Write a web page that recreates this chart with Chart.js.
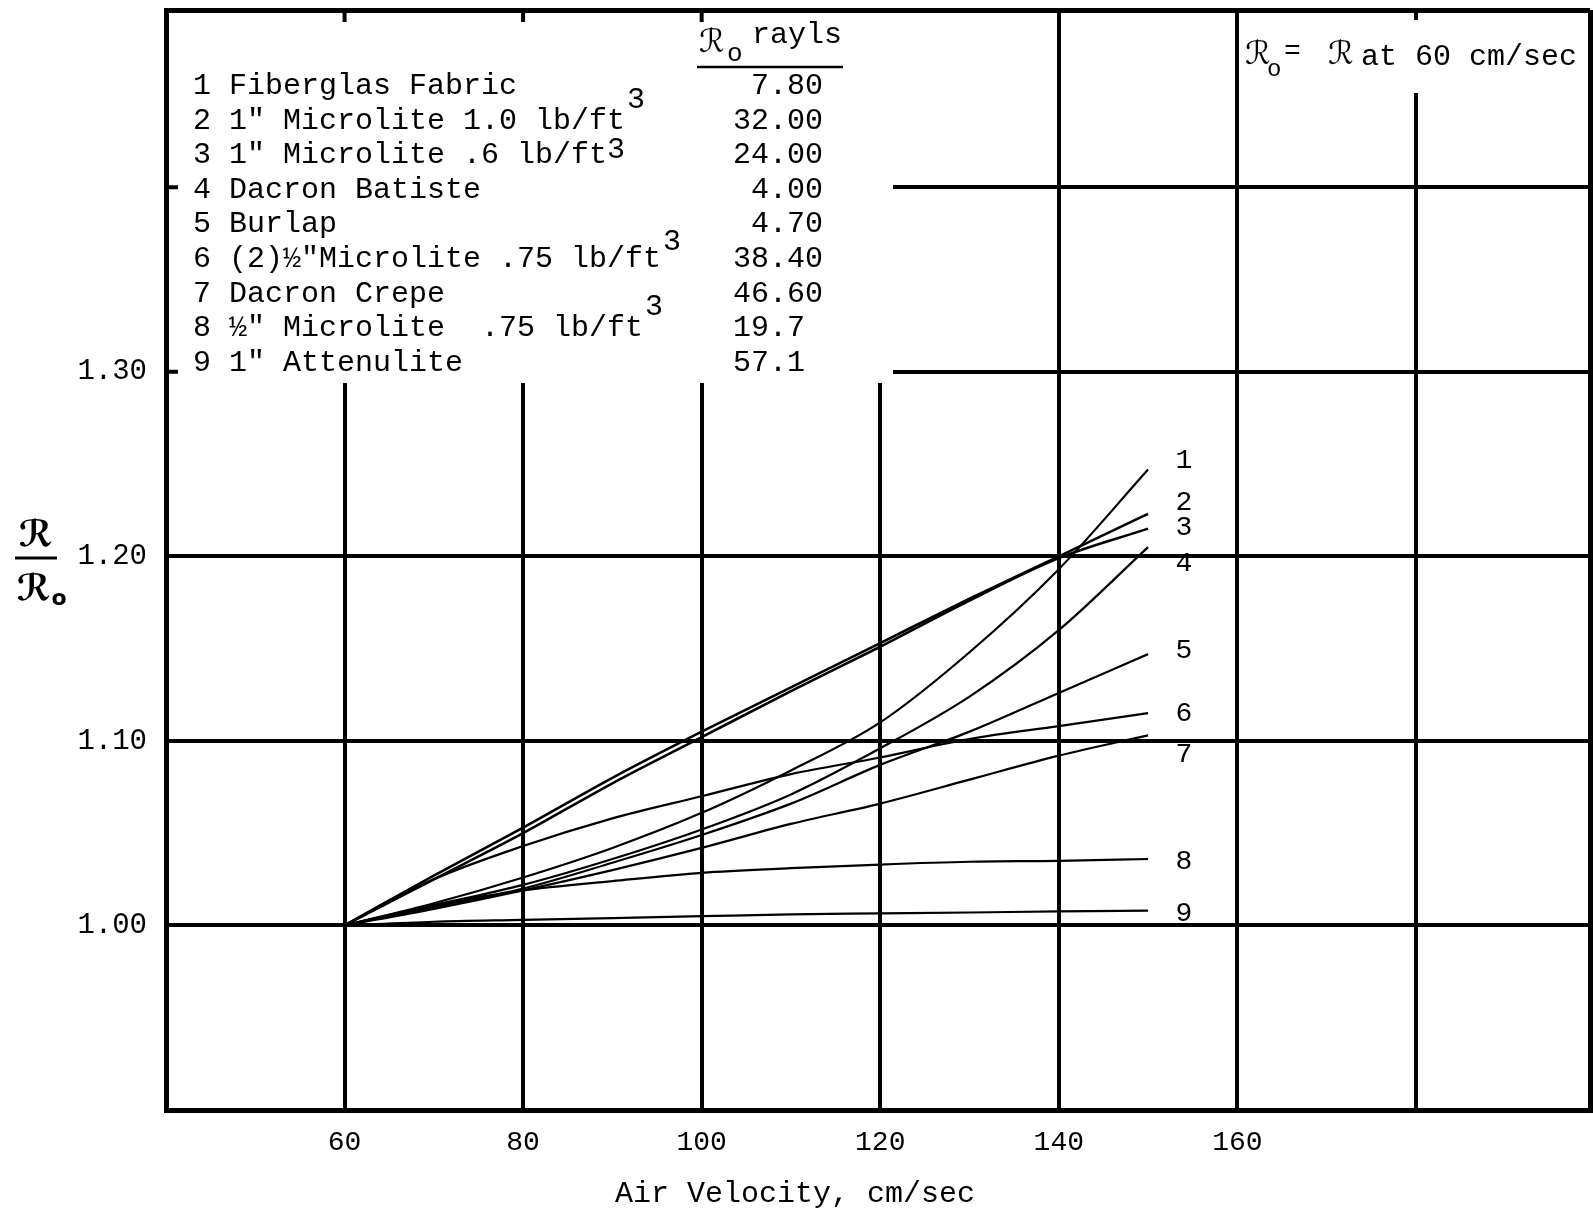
<!DOCTYPE html>
<html>
<head>
<meta charset="utf-8">
<title>R/Ro vs Air Velocity</title>
<script src="https://cdn.jsdelivr.net/npm/chart.js@4.4.1/dist/chart.umd.min.js"></script>
<style>
  html, body { margin: 0; padding: 0; background: #fff; }
  #wrap { width: 1593px; height: 1211px; }
</style>
</head>
<body>
<div id="wrap"><canvas id="chart" width="1593" height="1211"></canvas></div>
<script>
// Air velocity, cm/sec
const velocity = [60, 70, 80, 90, 100, 110, 120, 130, 140, 150];

// R / Ro, one array per material
const fiberglasFabric   = [1.000, 1.012, 1.026, 1.042, 1.061, 1.084, 1.110, 1.148, 1.193, 1.247];
const microlite1in10    = [1.000, 1.027, 1.053, 1.080, 1.105, 1.129, 1.153, 1.177, 1.200, 1.223];
const microlite1in06    = [1.000, 1.025, 1.050, 1.077, 1.102, 1.127, 1.151, 1.176, 1.199, 1.215];
const dacronBatiste     = [1.000, 1.011, 1.022, 1.036, 1.052, 1.071, 1.096, 1.124, 1.160, 1.205];
const burlap            = [1.000, 1.010, 1.020, 1.034, 1.049, 1.066, 1.087, 1.105, 1.126, 1.147];
const microliteHalf2x   = [1.000, 1.025, 1.043, 1.058, 1.070, 1.082, 1.091, 1.101, 1.108, 1.115];
const dacronCrepe       = [1.000, 1.009, 1.019, 1.030, 1.042, 1.055, 1.066, 1.079, 1.092, 1.103];
const microliteHalf     = [1.000, 1.011, 1.019, 1.024, 1.0285, 1.031, 1.033, 1.0345, 1.035, 1.036];
const attenulite        = [1.000, 1.002, 1.003, 1.004, 1.005, 1.006, 1.0065, 1.007, 1.0076, 1.008];

const seriesValues = [fiberglasFabric, microlite1in10, microlite1in06, dacronBatiste, burlap,
  microliteHalf2x, dacronCrepe, microliteHalf, attenulite];

// legend table
const materialNames = [
  'Fiberglas Fabric',
  '1" Microlite 1.0 lb/ft',
  '1" Microlite .6 lb/ft',
  'Dacron Batiste',
  'Burlap',
  '(2)\u00bd"Microlite .75 lb/ft',
  'Dacron Crepe',
  '\u00bd" Microlite  .75 lb/ft',
  '1" Attenulite'
];
const cubedUnit = [false, true, true, false, false, true, false, true, false];
const roRayls = ['7.80', '32.00', '24.00', '4.00', '4.70', '38.40', '46.60', '19.7 ', '57.1 '];

// curve number tags at the line ends (in R/Ro units)
const curveLabelY = [1.252, 1.229, 1.2155, 1.196, 1.149, 1.115, 1.0926, 1.0347, 1.0065];

const xTickLabels = [60, 80, 100, 120, 140, 160];
const yTickLabels = [1.00, 1.10, 1.20, 1.30];

const X_MIN = 40, X_MAX = 199.5;
const Y_MIN = 0.9, Y_MAX = 1.496;

const MONO = '"Liberation Mono", "DejaVu Sans Mono", monospace';
const SCRIPT = '"DejaVu Sans", "DejaVu Serif", serif';

document.addEventListener('DOMContentLoaded', function() {
  const canvas = document.getElementById('chart');

  const datasets = seriesValues.map((vals, i) => ({
    label: String(i + 1),
    data: velocity.map((v, j) => ({ x: v, y: vals[j] })),
    borderColor: '#000',
    borderWidth: (i === 1 || i === 2) ? 2.6 : 2.2,
    pointRadius: 0,
    fill: false,
    cubicInterpolationMode: 'monotone'
  }));

  function isEdge(value, lo, hi) {
    return Math.abs(value - lo) < 1e-6 || Math.abs(value - hi) < 1e-6;
  }

  // keep the plot frame where the paper has it
  function noPadding(scale) {
    scale.paddingTop = 0;
    scale.paddingBottom = 0;
    scale.paddingLeft = 0;
    scale.paddingRight = 0;
  }

  // white patches where the typed table and note cover the grid
  const maskPlugin = {
    id: 'mask',
    beforeDatasetsDraw(chart) {
      const ctx = chart.ctx;
      const a = chart.chartArea;
      const xs = chart.scales.x, ys = chart.scales.y;
      ctx.save();
      ctx.fillStyle = '#fff';
      ctx.fillRect(a.left + 3, a.top + 3, 893 - a.left - 3, 383 - a.top - 3);
      ctx.fillRect(1243, 20, 1587 - 1243, 73);

      // short stubs left by the grid under the table
      ctx.strokeStyle = '#000';
      ctx.lineWidth = 4;
      ctx.beginPath();
      [60, 80, 100].forEach(v => {
        const px = xs.getPixelForValue(v);
        ctx.moveTo(px, a.top);
        ctx.lineTo(px, a.top + 12);
      });
      [1.4, 1.3].forEach(v => {
        const py = ys.getPixelForValue(v);
        ctx.moveTo(a.left, py);
        ctx.lineTo(a.left + 12, py);
      });
      ctx.stroke();
      ctx.restore();
    }
  };

  const textPlugin = {
    id: 'texts',
    afterDraw(chart) {
      const ctx = chart.ctx;
      const xs = chart.scales.x, ys = chart.scales.y;
      ctx.save();
      ctx.fillStyle = '#000';
      ctx.strokeStyle = '#000';
      ctx.textBaseline = 'middle';

      // table of materials
      ctx.font = '30px ' + MONO;
      materialNames.forEach((name, i) => {
        const ty = 86 + i * 34.6;
        const line = (i + 1) + ' ' + name;
        ctx.textAlign = 'left';
        ctx.fillText(line, 193, ty);
        if (cubedUnit[i]) {
          const w = ctx.measureText(line).width;
          const raise = i === 2 ? 5 : (i === 5 ? 17 : 21);
          ctx.fillText('3', 193 + w + (i === 2 ? 0 : 2), ty - raise);
        }
        ctx.textAlign = 'right';
        ctx.fillText(roRayls[i], 823, ty);
      });

      // column header: Ro rayls
      ctx.textAlign = 'left';
      ctx.font = '32px ' + SCRIPT;
      ctx.fillText('\u211b', 699, 44);
      ctx.font = '26px ' + MONO;
      ctx.fillText('o', 727, 54);
      ctx.font = '30px ' + MONO;
      ctx.fillText('rayls', 752, 35);
      ctx.lineWidth = 2.5;
      ctx.beginPath();
      ctx.moveTo(697, 67);
      ctx.lineTo(843, 67);
      ctx.stroke();

      // note in the top right
      ctx.font = '32px ' + SCRIPT;
      ctx.fillText('\u211b', 1245, 56);
      ctx.font = '24px ' + MONO;
      ctx.fillText('o', 1267, 70);
      ctx.font = '28px ' + MONO;
      ctx.fillText('=', 1284, 52);
      ctx.font = '32px ' + SCRIPT;
      ctx.fillText('\u211b', 1328, 56);
      ctx.font = '30px ' + MONO;
      ctx.fillText('at 60 cm/sec', 1361, 57);

      // curve numbers
      ctx.textAlign = 'center';
      ctx.font = '28px ' + MONO;
      curveLabelY.forEach((v, i) => {
        ctx.fillText(String(i + 1), xs.getPixelForValue(154), ys.getPixelForValue(v));
      });

      // axis titles
      ctx.font = '30px ' + MONO;
      ctx.fillText('Air Velocity, cm/sec', 795, 1194);

      ctx.font = 'bold 36px ' + SCRIPT;
      ctx.fillText('\u211b', 36, 537);
      ctx.fillText('\u211b', 34, 591);
      ctx.font = 'bold 22px ' + SCRIPT;
      ctx.fillText('o', 59, 599);
      ctx.lineWidth = 3;
      ctx.beginPath();
      ctx.moveTo(15, 558);
      ctx.lineTo(57, 558);
      ctx.stroke();
      ctx.restore();
    }
  };

  new Chart(canvas, {
    type: 'line',
    data: { datasets: datasets },
    plugins: [maskPlugin, textPlugin],
    options: {
      responsive: false,
      animation: false,
      events: [],
      layout: { padding: { left: 0, right: 3, top: 10, bottom: 0 } },
      plugins: {
        legend: { display: false },
        tooltip: { enabled: false }
      },
      scales: {
        x: {
          type: 'linear',
          min: X_MIN,
          max: X_MAX,
          afterFit: scale => { scale.height = 101; noPadding(scale); },
          ticks: {
            stepSize: 20,
            padding: 16,
            color: '#000',
            font: { family: MONO, size: 28 },
            maxRotation: 0,
            autoSkip: false,
            callback: value => xTickLabels.includes(value) ? String(value) : ''
          },
          grid: {
            color: '#000',
            drawTicks: false,
            lineWidth: ctx => isEdge(ctx.tick.value, X_MIN, X_MAX) ? 5 : 4
          },
          border: { display: true, color: '#000', width: 5 }
        },
        y: {
          type: 'linear',
          min: Y_MIN,
          max: Y_MAX,
          afterFit: scale => { scale.width = 166; noPadding(scale); },
          ticks: {
            stepSize: 0.1,
            padding: 19,
            color: '#000',
            font: { family: MONO, size: 29 },
            autoSkip: false,
            callback: value => yTickLabels.some(t => Math.abs(t - value) < 1e-6) ? value.toFixed(2) : ''
          },
          grid: {
            color: '#000',
            drawTicks: false,
            lineWidth: ctx => isEdge(ctx.tick.value, Y_MIN, Y_MAX) ? 5 : 4
          },
          border: { display: true, color: '#000', width: 5 }
        }
      }
    }
  });
});
</script>
</body>
</html>
